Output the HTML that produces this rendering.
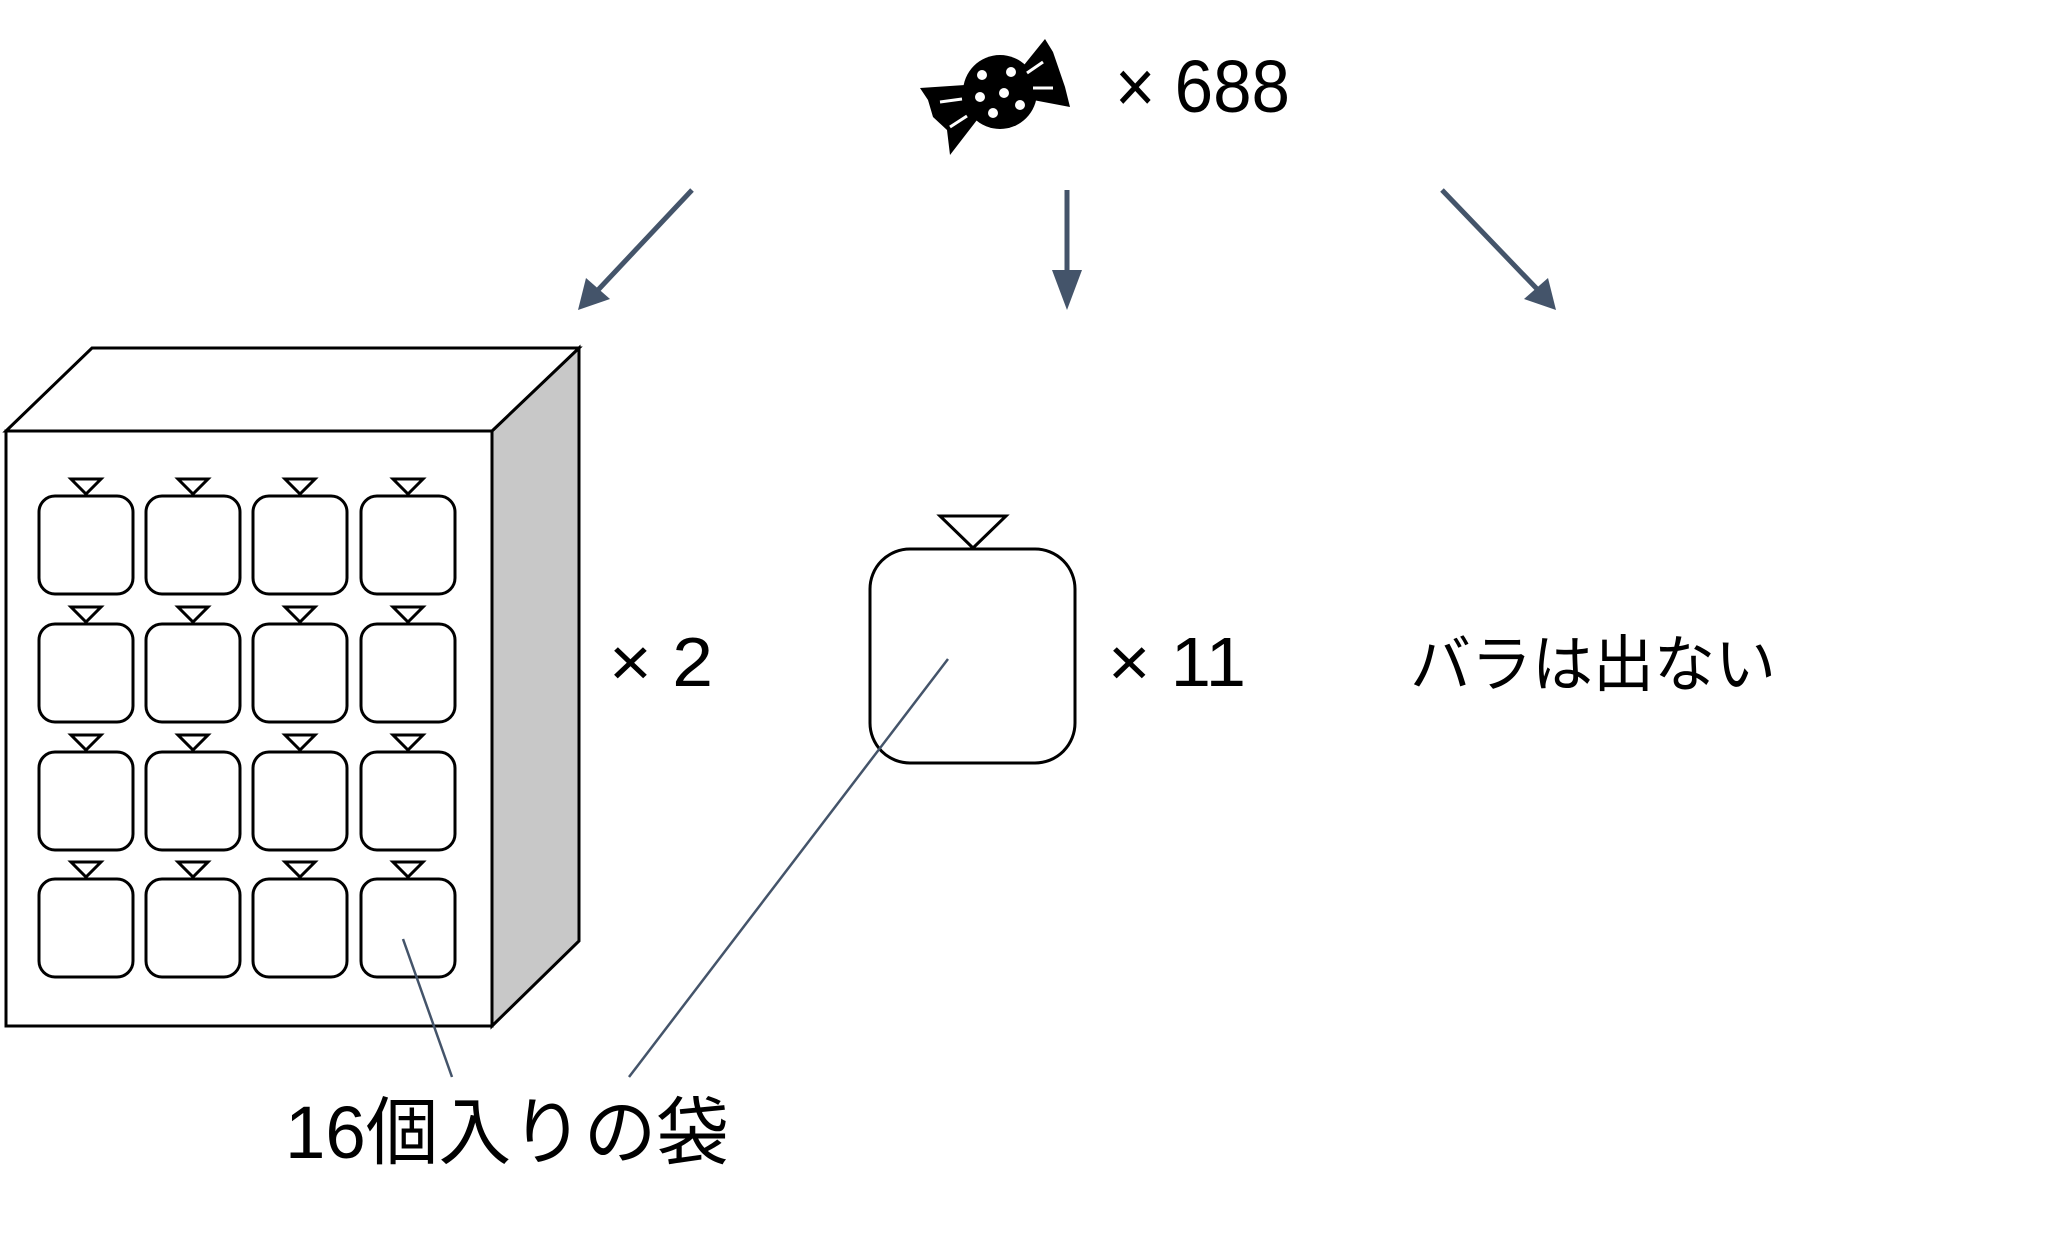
<!DOCTYPE html>
<html><head><meta charset="utf-8"><style>
html,body{margin:0;padding:0;background:#fff;}
svg{display:block;}
text{font-family:"Liberation Sans","Noto Sans CJK JP",sans-serif;fill:#000;}
</style></head><body>
<svg width="2048" height="1241" viewBox="0 0 2048 1241" xmlns="http://www.w3.org/2000/svg">
<defs>
<g id="bag">
<polygon points="-15,-17 15,-17 0,-2" fill="#fff" stroke="#000" stroke-width="3"/>
<rect x="-47" y="0" width="94" height="98" rx="16" fill="#fff" stroke="#000" stroke-width="3"/>
</g>
</defs>
<!-- candy -->
<g fill="#000">
<polygon points="920,88 965,85 977,120 950,155 947,130 933,117 928,100"/>
<polygon points="1020,70 1045,39 1053,52 1065,87 1070,107 1033,100"/>
<circle cx="1000" cy="92" r="37"/>
</g>
<g fill="#fff"><circle cx="982" cy="75" r="5"/><circle cx="1011" cy="72" r="5"/><circle cx="980" cy="97" r="5"/><circle cx="1004" cy="93" r="5"/><circle cx="1020" cy="105" r="5"/><circle cx="993" cy="113" r="5"/></g>
<g stroke="#fff" stroke-width="3"><line x1="940" y1="102" x2="962" y2="99"/><line x1="950" y1="127" x2="967" y2="116"/><line x1="1027" y1="73" x2="1043" y2="62"/><line x1="1033" y1="88" x2="1053" y2="88"/></g>
<text x="1115" y="112" font-size="74" textLength="175" lengthAdjust="spacingAndGlyphs">× 688</text>
<!-- arrows -->
<g stroke="#44546a" stroke-width="5">
<line x1="692" y1="190" x2="598" y2="290"/>
<line x1="1067" y1="190" x2="1067" y2="285"/>
<line x1="1442" y1="190" x2="1538" y2="290"/>
</g>
<g fill="#44546a">
<polygon points="578,310 586,278 610,299"/>
<polygon points="1067,310 1052,270 1082,270"/>
<polygon points="1556,310 1524,299 1548,278"/>
</g>
<!-- box -->
<polygon points="492,431 579,348 579,941 492,1026" fill="#c8c8c8" stroke="#000" stroke-width="3"/>
<polygon points="6,431 92,348 579,348 492,431" fill="#fff" stroke="#000" stroke-width="3"/>
<rect x="6" y="431" width="486" height="595" fill="#fff" stroke="#000" stroke-width="3"/>
<g>
<use href="#bag" x="86" y="496"/><use href="#bag" x="193" y="496"/><use href="#bag" x="300" y="496"/><use href="#bag" x="408" y="496"/>
<use href="#bag" x="86" y="624"/><use href="#bag" x="193" y="624"/><use href="#bag" x="300" y="624"/><use href="#bag" x="408" y="624"/>
<use href="#bag" x="86" y="752"/><use href="#bag" x="193" y="752"/><use href="#bag" x="300" y="752"/><use href="#bag" x="408" y="752"/>
<use href="#bag" x="86" y="879"/><use href="#bag" x="193" y="879"/><use href="#bag" x="300" y="879"/><use href="#bag" x="408" y="879"/>
</g>
<!-- big bag -->
<polygon points="940,516 1006,516 973,548" fill="#fff" stroke="#000" stroke-width="3"/>
<rect x="870" y="549" width="205" height="214" rx="40" fill="#fff" stroke="#000" stroke-width="3"/>
<!-- labels -->
<text x="609" y="686" font-size="70" textLength="104" lengthAdjust="spacingAndGlyphs">× 2</text>
<text x="1108" y="686" font-size="70" textLength="138" lengthAdjust="spacingAndGlyphs">× 11</text>
<text x="1410" y="686" font-size="62" textLength="366" lengthAdjust="spacingAndGlyphs">バラは出ない</text>
<!-- leader lines -->
<g stroke="#44546a" stroke-width="2.5">
<line x1="403" y1="939" x2="452" y2="1077"/>
<line x1="948" y1="659" x2="629" y2="1077"/>
</g>
<text x="285" y="1158" font-size="74" textLength="444" lengthAdjust="spacingAndGlyphs">16個入りの袋</text>
</svg>
</body></html>
